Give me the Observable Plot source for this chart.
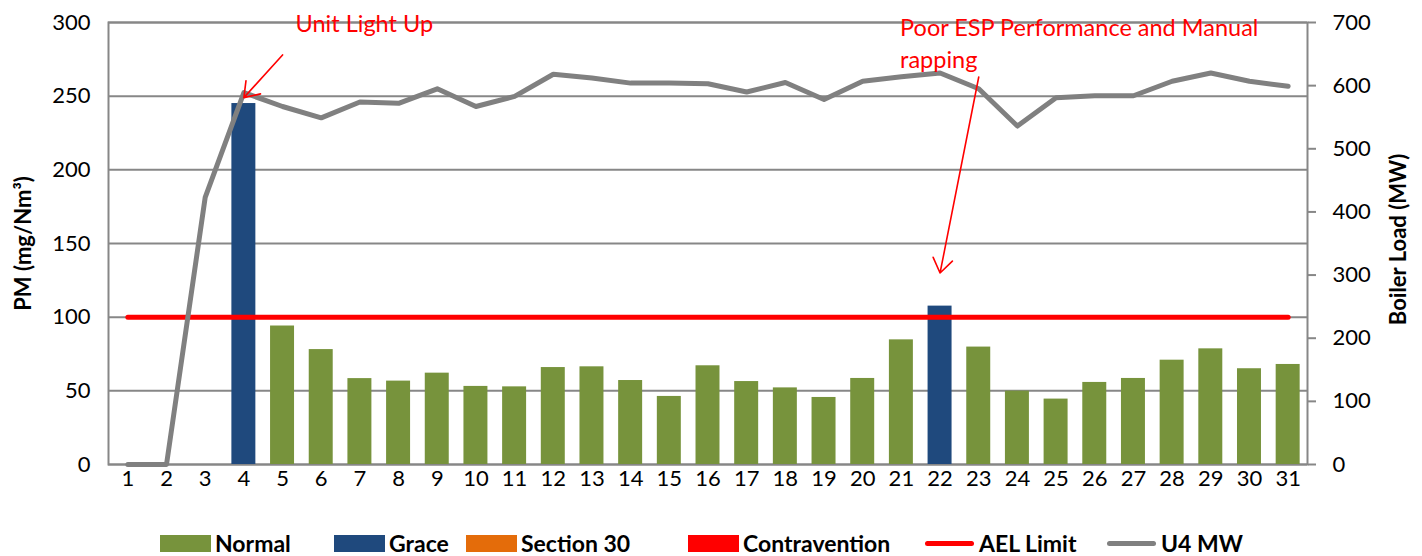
<!DOCTYPE html>
<html>
<head>
<meta charset="utf-8">
<script src="https://cdn.jsdelivr.net/npm/d3@7"></script>
<script src="https://cdn.jsdelivr.net/npm/@observablehq/plot@0.6"></script>
<style>
  body { margin: 0; background: #fff; width: 1422px; height: 556px; position: relative; overflow: hidden; }
  #chart { position: absolute; left: 0; top: 0; }
  #legend { position: absolute; left: 0; top: 0; width: 1422px; height: 556px; }
  .item { position: absolute; top: 532px; height: 22px; display: flex; align-items: center;
          font-family: "Lato", sans-serif; font-weight: bold; font-size: 23px; color: #000; white-space: nowrap; }
  .sw { width: 51px; height: 17px; margin-right: 4px; }
  .ln { width: 49px; height: 5px; border-radius: 3px; margin-right: 5px; }
</style>
</head>
<body>
<div id="chart"></div>
<div id="legend"></div>
<script>
// ---- data ----
const days = [1,2,3,4,5,6,7,8,9,10,11,12,13,14,15,16,17,18,19,20,21,22,23,24,25,26,27,28,29,30,31];
const pmValues = [null,null,null,245,94,78,58.3,56.6,62,53,52.7,65.8,66.3,57,46.2,67,56.3,52,45.5,58.4,84.6,107.5,79.7,49.8,44.4,55.7,58.4,70.8,78.5,65,67.9];
const pmStatus = [null,null,null,"Grace","Normal","Normal","Normal","Normal","Normal","Normal","Normal","Normal","Normal","Normal","Normal","Normal","Normal","Normal","Normal","Normal","Normal","Grace","Normal","Normal","Normal","Normal","Normal","Normal","Normal","Normal","Normal"];
const u4MW = [0,0,423,589,567,549,574,572,595,567,583,618,612,604,604,603,590,605,578,607,614,620,595,536,581,584,584,607,620,607,599];
const aelLimit = 100;
const pmTicks = [0,50,100,150,200,250,300];
const mwTicks = [0,100,200,300,400,500,600,700];
const statusNames = ["Normal","Grace","Section 30","Contravention"];
const statusColors = ["#77933C","#1F497D","#E46C0A","#FF0000"];
const lineNames = ["AEL Limit","U4 MW"];
const lineColors = ["#FF0000","#808080"];
const annoText = ["Unit Light Up", "Poor ESP Performance and Manual\nrapping"];
const annoTextDay = [5, 22];
const annoTextPM = [299, 287];
const arrowFromDay = [5, 23];
const arrowFromPM = [278, 263];
const arrowToDay = [4, 22];
const arrowToPM = [249, 130];

// ---- derived tables ----
const PM_MAX = 300, MW_MAX = 700;
const rows = days.map((d, i) => ({day: d, pm: pmValues[i], status: pmStatus[i], mw: u4MW[i], ael: aelLimit}));
const mwToPM = v => v * PM_MAX / MW_MAX;
const annos = annoText.map((t, i) => ({text: t, day: annoTextDay[i], pm: annoTextPM[i]}));
const arrows = arrowFromDay.map((d, i) => ({x1: d, y1: arrowFromPM[i], x2: arrowToDay[i], y2: arrowToPM[i]}));

const gridColor = "#878787";
const chart = Plot.plot({
  width: 1422,
  height: 510,
  marginTop: 22,
  marginBottom: 46,
  marginLeft: 108,
  marginRight: 115,
  style: {fontFamily: "Lato, sans-serif", fontSize: "22px", color: "#000", background: "#fff"},
  x: {type: "band", domain: days, paddingInner: 0.38, paddingOuter: 0.19, round: false},
  y: {domain: [0, PM_MAX]},
  color: {domain: statusNames, range: statusColors},
  marks: [
    Plot.gridY(pmTicks, {stroke: gridColor, strokeOpacity: 1, strokeWidth: 2}),
    Plot.frame({stroke: gridColor, strokeWidth: 2}),
    Plot.axisY(pmTicks, {anchor: "left", tickSize: 0, tickPadding: 18, label: null}),
    Plot.axisY(mwTicks.map(mwToPM), {anchor: "right", tickSize: 8, tickPadding: 17, stroke: gridColor, strokeWidth: 2,
      tickFormat: v => String(Math.round(v * MW_MAX / PM_MAX)), label: null}),
    Plot.axisX({tickSize: 0, tickPadding: 6, label: null}),
    Plot.barY(rows.filter(d => d.pm != null), {x: "day", y: "pm", fill: "status"}),
    Plot.lineY(rows, {x: "day", y: "ael", stroke: lineColors[0], strokeWidth: 5, strokeLinecap: "round"}),
    Plot.lineY(rows, {x: "day", y: d => mwToPM(d.mw), stroke: lineColors[1], strokeWidth: 5, strokeLinejoin: "round", strokeLinecap: "round"}),
    Plot.arrow(arrows, {x1: "x1", y1: "y1", x2: "x2", y2: "y2", stroke: "#FF0000", strokeWidth: 1.6, headLength: 16, headAngle: 70}),
    Plot.text(annos.slice(0, 1), {x: "day", y: "pm", text: "text", fill: "#FF0000", textAnchor: "start", dx: 13, fontSize: 23.5}),
    Plot.text(annos.slice(1), {x: "day", y: "pm", text: "text", fill: "#FF0000", textAnchor: "start", dx: -40, fontSize: 23.5, lineHeight: 1.36}),
    Plot.text(["PM (mg/Nm³)"], {frameAnchor: "left", dx: -85, rotate: -90, textAnchor: "middle", fontWeight: "bold", fontSize: 22}),
    Plot.text(["Boiler Load (MW)"], {frameAnchor: "right", dx: 91, dy: -4, rotate: -90, textAnchor: "middle", fontWeight: "bold", fontSize: 22})
  ]
});
document.getElementById("chart").appendChild(chart);

// ---- legend ----
const legendLeft = [160, 334, 466, 688, 925, 1107];
const legend = document.getElementById("legend");
statusNames.forEach((n, i) => {
  const it = document.createElement("div");
  it.className = "item"; it.style.left = legendLeft[i] + "px";
  it.innerHTML = `<span class="sw" style="background:${statusColors[i]}"></span><span>${n}</span>`;
  legend.appendChild(it);
});
lineNames.forEach((n, i) => {
  const it = document.createElement("div");
  it.className = "item"; it.style.left = legendLeft[4 + i] + "px";
  it.innerHTML = `<span class="ln" style="background:${lineColors[i]}"></span><span>${n}</span>`;
  legend.appendChild(it);
});
</script>
</body>
</html>
